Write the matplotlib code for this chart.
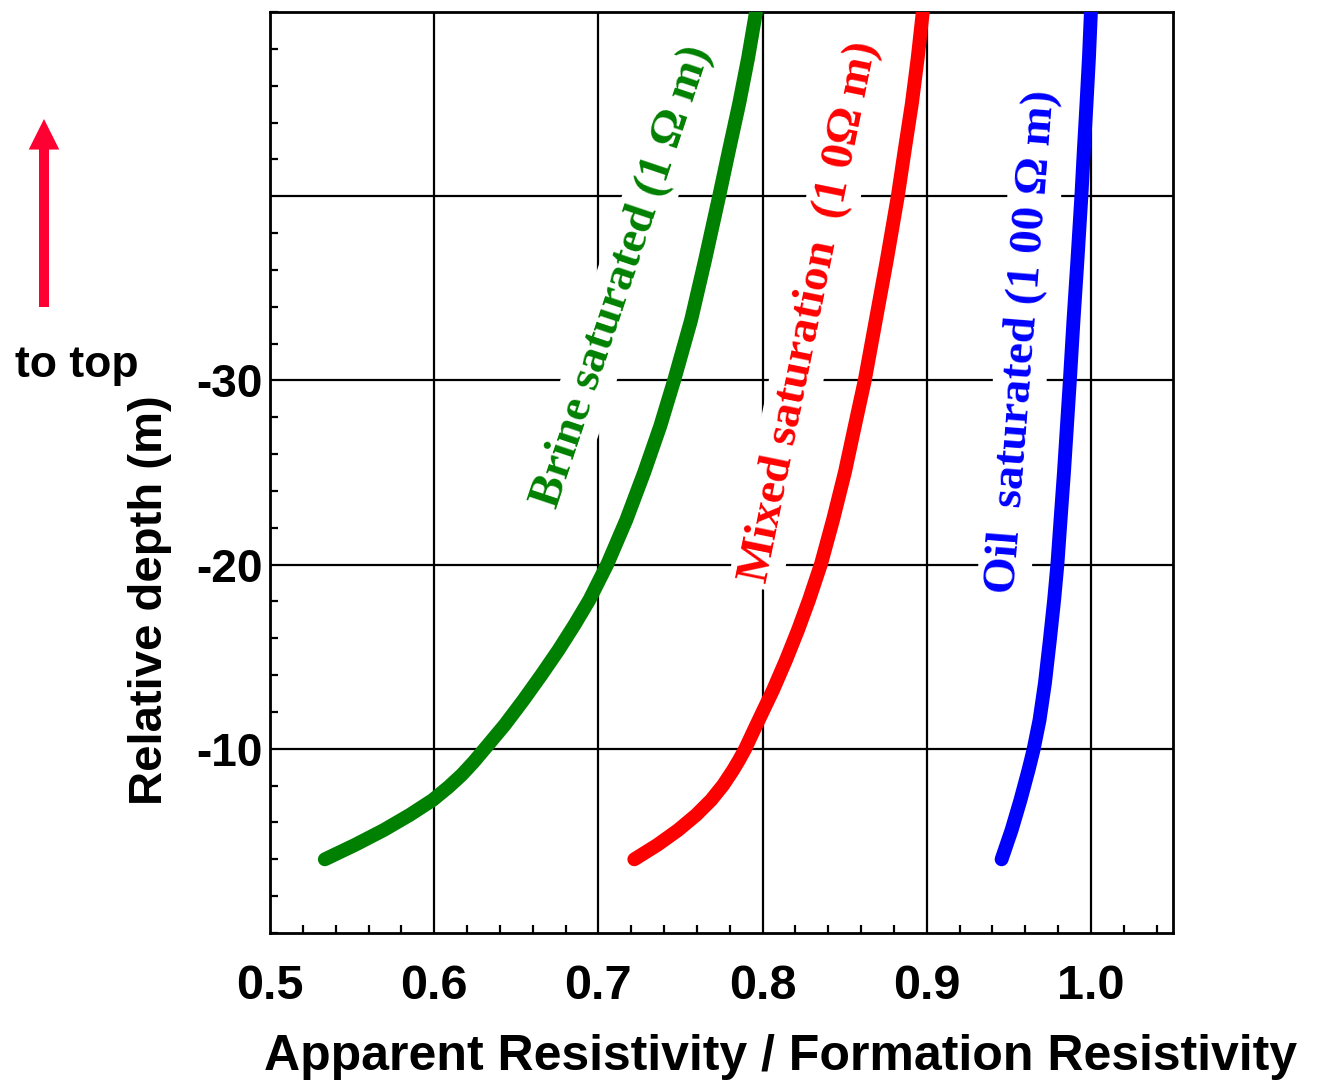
import matplotlib
matplotlib.use("Agg")
import matplotlib.pyplot as plt
from matplotlib.ticker import MultipleLocator, FixedLocator, FixedFormatter

# ---- data ----
brine_x = [0.5334, 0.5517, 0.5693, 0.5851, 0.5991, 0.6088, 0.6167, 0.6240, 0.6307,
           0.6429, 0.6544, 0.6653, 0.6757, 0.6854, 0.6945, 0.7055, 0.7170, 0.7280,
           0.7377, 0.7462, 0.7565, 0.7650, 0.7736, 0.7796, 0.7857, 0.7912, 0.7960]
brine_d = [-4.0, -4.78, -5.59, -6.41, -7.22, -7.93, -8.58, -9.28, -9.99,
           -11.29, -12.65, -14.01, -15.36, -16.72, -18.08, -20.03, -22.42, -25.03,
           -27.52, -30.02, -33.28, -36.54, -40.01, -42.51, -45.0, -47.5, -50.0]

mixed_x = [0.7219, 0.7359, 0.7486, 0.7596, 0.7687, 0.7760, 0.7821, 0.7857, 0.7894,
           0.7948, 0.7997, 0.8064, 0.8143, 0.8216, 0.8283, 0.8356, 0.8429, 0.8502,
           0.8562, 0.8623, 0.8690, 0.8757, 0.8824, 0.8866, 0.8909, 0.8945, 0.8976]
mixed_d = [-4.0, -4.78, -5.59, -6.41, -7.22, -8.03, -8.85, -9.39, -9.99,
           -11.02, -11.94, -13.19, -14.82, -16.45, -18.08, -20.03, -22.42, -25.03,
           -27.52, -30.02, -33.28, -36.54, -40.01, -42.51, -45.0, -47.5, -50.0]

oil_x = [0.9456, 0.9517, 0.9571, 0.9620, 0.9650, 0.9687, 0.9720, 0.9750, 0.9776,
         0.9796, 0.9815, 0.9836, 0.9854, 0.9872, 0.9894, 0.9918, 0.9942, 0.9957,
         0.9973, 0.9988, 1.0000]
oil_d = [-4.0, -5.59, -7.22, -8.85, -9.93, -11.56, -13.57, -15.91, -18.08,
         -20.03, -22.42, -25.03, -27.52, -30.02, -33.28, -36.54, -40.01, -42.51,
         -45.0, -47.5, -50.0]

x_ticks = [0.5, 0.6, 0.7, 0.8, 0.9, 1.0]
x_ticklabels = ["0.5", "0.6", "0.7", "0.8", "0.9", "1.0"]
y_ticks = [-40, -30, -20, -10]
y_ticklabels = ["", "-30", "-20", "-10"]

labels = ["Brine saturated (1 \u03a9 m)",
          "Mixed saturation  (1 0\u03a9 m)",
          "Oil  saturated (1 00 \u03a9 m)"]

sans = "Liberation Sans"
serif = "Liberation Serif"
plt.rcParams["axes.unicode_minus"] = False

fig = plt.figure(figsize=(13.25, 10.85), dpi=100)
ax = fig.add_axes([270 / 1325, 1 - 933 / 1085, (1173 - 270) / 1325, (933 - 12) / 1085])

ax.set_xlim(0.5, 1.05)
ax.set_ylim(0, -50)

# curves
ax.plot(brine_x, brine_d, color="#008000", lw=10, solid_capstyle="round",
        solid_joinstyle="round", zorder=4)
ax.plot(mixed_x, mixed_d, color="#ff0000", lw=10, solid_capstyle="round",
        solid_joinstyle="round", zorder=4)
ax.plot(oil_x, oil_d, color="#0000ff", lw=10, solid_capstyle="round",
        solid_joinstyle="round", zorder=4)

# ticks
ax.xaxis.set_major_locator(FixedLocator(x_ticks))
ax.xaxis.set_major_formatter(FixedFormatter(x_ticklabels))
ax.xaxis.set_minor_locator(MultipleLocator(0.02))
ax.yaxis.set_major_locator(FixedLocator(y_ticks))
ax.yaxis.set_major_formatter(FixedFormatter(y_ticklabels))
ax.yaxis.set_minor_locator(MultipleLocator(2))
ax.tick_params(which="both", direction="in", color="black")
ax.tick_params(which="major", length=0, width=1.6)
ax.tick_params(which="minor", length=6, width=1.6)
ax.tick_params(axis="x", which="major", pad=22)
ax.tick_params(axis="y", which="major", pad=5)
for t in ax.get_xticklabels():
    t.set_fontfamily(sans)
    t.set_fontweight("bold")
    t.set_fontsize(35)
for t in ax.get_yticklabels():
    t.set_fontfamily(sans)
    t.set_fontweight("bold")
    t.set_fontsize(33)

ax.grid(True, which="major", color="black", lw=1.6)
for s in ax.spines.values():
    s.set_linewidth(2.0)

ax.set_xlabel("Apparent Resistivity / Formation Resistivity",
              fontfamily=sans, fontweight="bold", fontsize=36)
ax.xaxis.set_label_coords((780 - 270) / 903, (933 - 1034) / 921)
ax.set_ylabel("Relative depth (m)", fontfamily=sans, fontweight="bold", fontsize=34)
ax.yaxis.set_label_coords((172 - 270) / 903, (933 - 600) / 921)

# rotated curve labels with white boxes
box = dict(facecolor="white", edgecolor="none", pad=4)
ax.text(0.715, -35.6, labels[0], color="#008000", rotation=71.5,
        rotation_mode="anchor", ha="center", va="center",
        fontfamily=serif, fontweight="bold", fontsize=34, bbox=box, zorder=3)
ax.text(0.8289, -33.7, labels[1], color="#ff0000", rotation=78.5,
        rotation_mode="anchor", ha="center", va="center",
        fontfamily=serif, fontweight="bold", fontsize=34, bbox=box, zorder=3)
ax.text(0.9585, -32.1, labels[2], color="#0000ff", rotation=85.5,
        rotation_mode="anchor", ha="center", va="center",
        fontfamily=serif, fontweight="bold", fontsize=34, bbox=box, zorder=3)

# "to top" arrow and label
fig.text(77 / 1325, 1 - 365 / 1085, "to top", ha="center", va="center",
         fontfamily=sans, fontweight="bold", fontsize=32)
ax.annotate("", xy=(44, 1085 - 119), xycoords="figure pixels",
            xytext=(44, 1085 - 307), textcoords="figure pixels",
            arrowprops=dict(arrowstyle="simple,head_length=22,head_width=22,tail_width=7.2",
                            mutation_scale=1, color="#ff0033", lw=0,
                            shrinkA=0, shrinkB=0),
            annotation_clip=False)

fig.savefig("out.png", dpi=100)
